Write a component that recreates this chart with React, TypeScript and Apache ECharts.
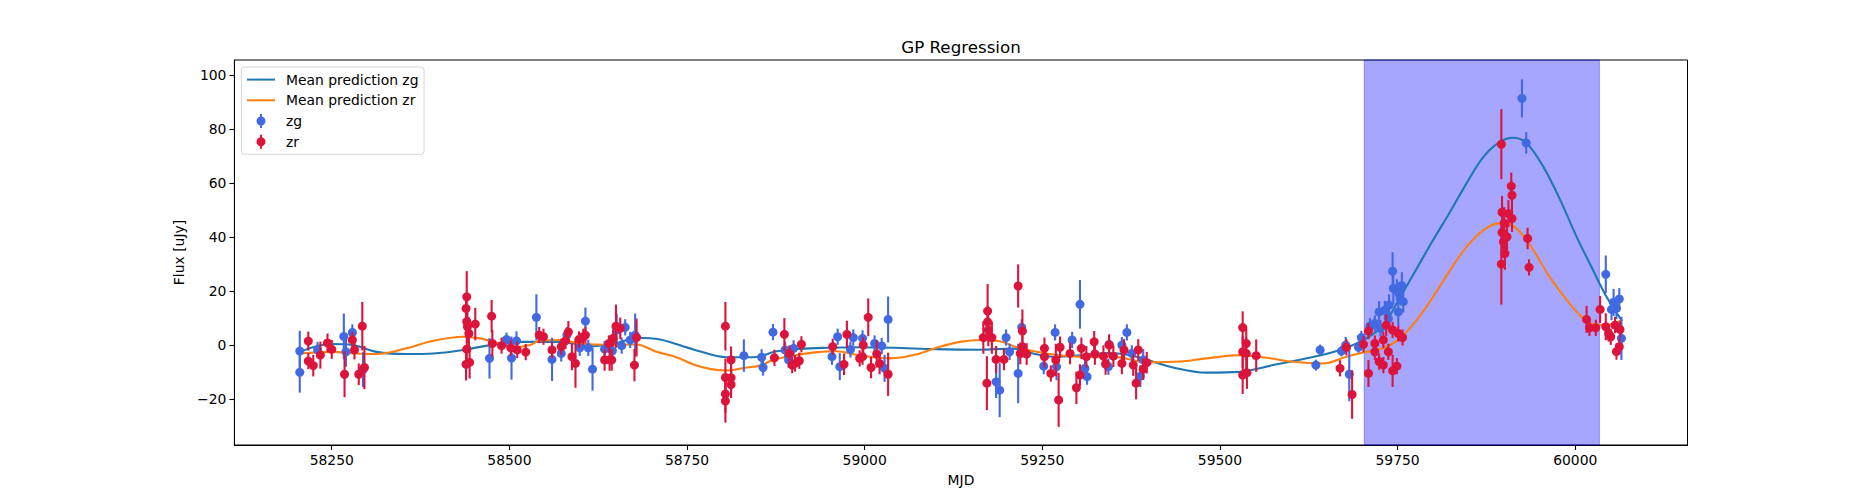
import { useEffect, useRef } from 'react';
import * as echarts from 'echarts';

// observations: [MJD, flux, error]
const zgPoints: number[][] = [
  [58205, -2.1, 7.5], [58205, -10.0, 7.5], [58230, -1.7, 3.0], [58267, 3.3, 8.5], [58270, -2.4, 5.5],
  [58279, 4.8, 3.0], [58294, -9.0, 6.5], [58472, -4.8, 7.5], [58496, 2.2, 2.5], [58503, -4.7, 8.0],
  [58510, 1.7, 3.5], [58538, 10.4, 8.5], [58560, -5.2, 8.0], [58573, -3.0, 3.0], [58581, 3.8, 3.0],
  [58599, -0.9, 3.0], [58607, 9.0, 5.0], [58611, -0.9, 3.0], [58617, -8.8, 8.0], [58634, -1.4, 3.0],
  [58645, -2.0, 3.0], [58651, 5.7, 6.0], [58658, -0.1, 3.0], [58663, 6.7, 3.0], [58670, 2.0, 3.0],
  [58677, 3.8, 8.0], [58830, -3.8, 6.0], [58855, -4.4, 3.0], [58857, -8.2, 3.0], [58871, 4.9, 3.0],
  [58888, -1.7, 3.0], [58893, -5.4, 3.0], [58900, -1.1, 3.0], [58954, -4.2, 3.0], [58962, 3.2, 3.0],
  [58965, -7.9, 5.0], [58980, -1.5, 3.0], [58984, 2.9, 3.0], [58997, 2.6, 3.0], [59014, 0.7, 3.0],
  [59024, -0.2, 3.0], [59028, -8.5, 5.0], [59033, 9.6, 8.5], [59185, -13.5, 6.0], [59190, -16.6, 10.0],
  [59199, 2.9, 3.0], [59204, -2.4, 3.0], [59216, -10.4, 11.0], [59221, 6.7, 3.0], [59252, -7.7, 3.0],
  [59268, 4.8, 3.0], [59270, -7.9, 5.0], [59292, 2.0, 3.0], [59303, 15.2, 9.0], [59310, -8.5, 3.0],
  [59313, -11.6, 3.0], [59343, -7.9, 3.0], [59344, 0.4, 3.0], [59362, 0.1, 3.0], [59369, 4.8, 3.0],
  [59376, -3.0, 3.0], [59388, -11.4, 4.0], [59392, -5.4, 4.0], [59635, -7.3, 2.0], [59641, -1.7, 2.0],
  [59671, -2.1, 2.0], [59677, 0.1, 3.0], [59682, -10.7, 10.0], [59695, -0.7, 2.0], [59699, 2.9, 2.5],
  [59711, 7.1, 3.0], [59718, 8.1, 3.0], [59724, 12.4, 4.0], [59726, 6.3, 3.0], [59732, 13.0, 3.5],
  [59737, 10.0, 3.5], [59738, 14.9, 4.0], [59743, 27.5, 7.0], [59744, 21.1, 6.0], [59749, 20.5, 4.0],
  [59751, 12.4, 5.0], [59752, 19.2, 4.0], [59756, 22.1, 5.0], [59758, 16.2, 4.0], [59925, 91.5, 7.0],
  [59931, 75.0, 4.0], [60043, 26.3, 7.0], [60051, 13.3, 4.0], [60054, 15.9, 5.0], [60058, 13.7, 4.0],
  [60062, 17.2, 4.0], [60065, 2.6, 8.0],
];

const zrPoints: number[][] = [
  [58217, 1.6, 3.5], [58217, -5.8, 3.0], [58224, -7.5, 4.0], [58234, -3.6, 5.0], [58244, 0.9, 3.5],
  [58250, -1.5, 3.5], [58268, -10.7, 8.5], [58279, 2.0, 3.0], [58282, -1.7, 3.5], [58288, -10.7, 4.0],
  [58293, 7.1, 9.0], [58296, -8.2, 8.0], [58439, 13.7, 5.0], [58440, 18.0, 9.5], [58440, 8.8, 6.0],
  [58441, 6.9, 6.0], [58443, 4.4, 6.0], [58440, -1.4, 6.0], [58439, -7.0, 6.0], [58444, -6.3, 6.0],
  [58452, 7.9, 6.0], [58475, 10.8, 6.0], [58476, 0.7, 5.0], [58489, -0.1, 3.0], [58502, -0.9, 3.0],
  [58511, -1.7, 3.0], [58523, -2.5, 3.0], [58542, 3.8, 3.0], [58548, 3.2, 3.0], [58560, -1.7, 3.0],
  [58573, -0.5, 3.0], [58579, 1.7, 3.0], [58583, 5.0, 4.0], [58588, -4.2, 5.0], [58593, -6.7, 9.0],
  [58598, 2.2, 3.0], [58604, 3.2, 3.0], [58607, 3.8, 3.0], [58634, -5.4, 4.0], [58640, 0.7, 3.0],
  [58641, -5.4, 4.0], [58644, -5.4, 4.0], [58646, 2.6, 3.0], [58650, 7.1, 8.0], [58656, 6.3, 4.0],
  [58676, -7.3, 6.0], [58679, 2.9, 7.0], [58804, 7.1, 9.0], [58804, -11.9, 7.0], [58804, -18.0, 7.0],
  [58804, -20.6, 8.0], [58812, -5.4, 5.0], [58812, -12.0, 5.0], [58812, -14.5, 5.0], [58873, -4.6, 3.0],
  [58887, 4.1, 6.0], [58894, -3.0, 3.0], [58898, -7.3, 3.0], [58902, -6.7, 3.0], [58908, -5.7, 3.0],
  [58911, 0.4, 3.0], [58955, -0.5, 3.0], [58971, -7.0, 4.0], [58975, 4.1, 5.0], [58993, -4.8, 3.0],
  [58997, -4.2, 3.0], [58998, 0.1, 3.0], [59005, 10.4, 7.0], [59009, -8.2, 4.0], [59017, -3.2, 5.0],
  [59021, -6.7, 4.0], [59033, -10.7, 8.0], [59167, 2.9, 6.0], [59172, -14.0, 10.0], [59173, 12.7, 10.0],
  [59173, 8.7, 6.0], [59174, 5.7, 6.0], [59179, 2.9, 6.0], [59185, -5.2, 5.0], [59196, -5.2, 4.0],
  [59216, 22.0, 8.0], [59219, -3.0, 4.0], [59222, 5.3, 8.0], [59222, -0.5, 4.0], [59228, -3.2, 4.0],
  [59253, -1.1, 4.0], [59253, -4.2, 4.0], [59262, -10.4, 3.0], [59269, -5.4, 6.0], [59273, -20.2, 10.0],
  [59275, -0.7, 4.0], [59289, -3.0, 4.0], [59298, -15.7, 6.0], [59303, -11.0, 4.0], [59305, -1.1, 4.0],
  [59312, -4.2, 4.0], [59323, 1.3, 4.0], [59324, -3.2, 4.0], [59336, -4.0, 4.0], [59339, -6.9, 4.0],
  [59344, 0.1, 4.0], [59350, -4.0, 4.0], [59362, -6.7, 4.0], [59365, -1.7, 4.0], [59378, -7.3, 4.0],
  [59382, -14.0, 6.0], [59385, -1.7, 4.0], [59392, -8.8, 4.0], [59397, -6.4, 4.0], [59532, 6.6, 6.0],
  [59532, -2.4, 6.0], [59532, -11.0, 7.0], [59537, 0.7, 6.0], [59537, -3.0, 6.0], [59538, -10.1, 6.0],
  [59551, -3.8, 6.0], [59669, -8.5, 3.0], [59678, -0.7, 3.0], [59686, -18.2, 9.0], [59702, 0.4, 3.0],
  [59709, 5.3, 3.0], [59709, -10.4, 5.0], [59718, 0.7, 3.0], [59718, -2.4, 3.0], [59724, -6.0, 3.0],
  [59730, -7.3, 3.0], [59730, 2.0, 3.0], [59734, 7.5, 4.0], [59737, -2.4, 3.0], [59743, 5.7, 3.0],
  [59743, -9.4, 6.0], [59749, -7.7, 3.0], [59751, 4.4, 3.0], [59757, 2.9, 3.0], [59896, 74.5, 13.0],
  [59896, 30.1, 15.0], [59897, 41.8, 6.0], [59897, 49.3, 6.0], [59899, 38.4, 6.0], [59900, 45.2, 6.0],
  [59901, 34.0, 6.0], [59904, 40.2, 5.0], [59906, 48.8, 5.0], [59910, 59.0, 5.0], [59911, 55.6, 5.0],
  [59911, 47.0, 5.0], [59933, 39.6, 4.0], [59935, 28.9, 3.0], [60016, 9.6, 5.0], [60020, 6.5, 3.0],
  [60029, 6.5, 3.0], [60035, 13.3, 5.0], [60043, 6.9, 5.0], [60047, 4.4, 3.0], [60050, 3.2, 3.0],
  [60056, 7.5, 3.0], [60058, -2.3, 3.0], [60062, -0.5, 3.0], [60063, 5.9, 3.0],
];

// GP mean predictions: [MJD, flux]
const zgMean: number[][] = [
  [58205, -2.4], [58248, 0.5], [58280, 0.1], [58313, -2.4], [58355, -3.2], [58393, -3.0],
  [58435, -1.7], [58473, 0.1], [58520, 1.3], [58571, 1.3], [58618, -0.3], [58650, 0.8],
  [58679, 2.8], [58712, 2.2], [58759, -1.5], [58806, -4.4], [58843, -4.4], [58876, -2.2],
  [58909, -1.3], [58947, -0.9], [58990, -0.7], [59040, -0.9], [59100, -1.4], [59160, -1.6],
  [59209, -1.2], [59237, -3.0], [59265, -4.2], [59300, -3.8], [59345, -2.8], [59370, -3.5],
  [59397, -5.3], [59434, -8.2], [59481, -10.1], [59528, -9.8], [59575, -7.3], [59622, -4.8],
  [59669, -1.7], [59706, 2.6], [59730, 7.5], [59753, 17.5], [59777, 28.5], [59800, 39.0],
  [59824, 49.5], [59847, 60.0], [59871, 69.9], [59894, 75.4], [59913, 76.9], [59932, 74.8],
  [59955, 66.2], [59979, 53.8], [60002, 40.2], [60025, 27.9], [60044, 18.0], [60066, 9.0],
];

const zrMean: number[][] = [
  [58205, -3.0], [58250, -2.4], [58285, -3.0], [58313, -3.2], [58355, -1.1], [58393, 1.7],
  [58435, 3.2], [58459, 2.6], [58482, 1.0], [58505, -0.8], [58529, 0.1], [58543, 1.8],
  [58571, 2.0], [58599, 0.7], [58640, 0.2], [58679, 0.3], [58707, -2.4], [58735, -4.4],
  [58760, -7.2], [58782, -8.7], [58806, -9.3], [58834, -8.2], [58853, -7.5], [58871, -5.4],
  [58900, -3.8], [58930, -2.6], [58960, -2.2], [58994, -3.8], [59036, -4.8], [59069, -3.6],
  [59100, -1.0], [59134, 1.3], [59165, 2.0], [59190, 1.5], [59219, -1.1], [59256, -3.0],
  [59303, -4.2], [59350, -4.2], [59397, -6.3], [59444, -6.0], [59481, -4.8], [59528, -3.6],
  [59566, -4.6], [59599, -6.0], [59645, -6.7], [59678, -4.2], [59706, -2.4], [59730, -1.0],
  [59753, 2.5], [59777, 9.4], [59800, 18.0], [59824, 27.9], [59847, 36.5], [59871, 42.7],
  [59892, 45.2], [59904, 45.2], [59922, 42.1], [59941, 35.3], [59964, 25.4], [59988, 16.8],
  [60011, 10.0], [60025, 7.8], [60044, 7.5], [60066, 9.4],
];

const highlightRange = [59703, 60034];
const xTicks = [58250, 58500, 58750, 59000, 59250, 59500, 59750, 60000];
const yTicks = [-20, 0, 20, 40, 60, 80, 100];

const FONT = 'DejaVu Sans';
const ZG_COLOR = '#4169E1';
const ZR_COLOR = '#DC143C';
const LINE_ICON = 'path://M0,0H28V2H0Z';
const ERR_ICON = 'path://M3.5,0H5.5V14H3.5Z M0,7A4.5,4.5 0 1 1 9,7A4.5,4.5 0 1 1 0,7Z';

const errorBar = (color: string) => (params: any, api: any) => {
  const x = api.value(0);
  const y = api.value(1);
  const e = api.value(2);
  const c = api.coord([x, y]);
  const hi = api.coord([x, y + e]);
  const lo = api.coord([x, y - e]);
  return {
    type: 'group',
    children: [
      { type: 'line', shape: { x1: c[0], y1: hi[1], x2: c[0], y2: lo[1] }, style: { stroke: color, lineWidth: 2.1 } },
      { type: 'circle', shape: { cx: c[0], cy: c[1], r: 4.5 }, style: { fill: color } },
    ],
  };
};

const minus = (v: number) => String(v).replace('-', '\u2212');

export default function App() {
  const chartRef = useRef<HTMLDivElement>(null);

  useEffect(() => {
    if (!chartRef.current) return;
    const chart = echarts.init(chartRef.current, null, { renderer: 'svg' });

    const option: any = {
      animation: false,
      backgroundColor: '#ffffff',
      title: {
        text: 'GP Regression',
        left: 961,
        top: 38,
        textAlign: 'center',
        padding: 0,
        textStyle: { fontFamily: FONT, fontSize: 16.7, fontWeight: 'normal', color: '#000' },
      },
      legend: {
        orient: 'vertical',
        left: 241.4,
        top: 67,
        padding: [5.6, 5.6, 5.6, 5.6],
        itemWidth: 28,
        itemHeight: 14,
        itemGap: 6.7,
        backgroundColor: 'rgba(255,255,255,0.8)',
        borderColor: '#d6d6d6',
        borderWidth: 1,
        borderRadius: 3,
        itemStyle: { borderWidth: 0 },
        textStyle: { fontFamily: FONT, fontSize: 13.9, color: '#000', lineHeight: 14, padding: [0, 0, 0, 6] },
        data: [
          { name: 'Mean prediction zg', icon: LINE_ICON },
          { name: 'Mean prediction zr', icon: LINE_ICON },
          { name: 'zg', icon: ERR_ICON },
          { name: 'zr', icon: ERR_ICON },
        ],
      },
      grid: {
        left: 234.4,
        right: 187.5,
        top: 60,
        bottom: 55,
        show: true,
        borderColor: '#000',
        borderWidth: 1,
        outerBoundsMode: 'none',
      },
      xAxis: {
        type: 'value',
        min: 58113,
        max: 60158,
        name: 'MJD',
        nameLocation: 'middle',
        nameGap: 28,
        nameTextStyle: { fontFamily: FONT, fontSize: 13.9, color: '#000' },
        splitLine: { show: false },
        axisLine: { show: true, onZero: false, lineStyle: { color: '#000', width: 1 } },
        axisTick: { show: true, length: 5, lineStyle: { color: '#000', width: 1.1 }, customValues: xTicks },
        axisLabel: {
          customValues: xTicks,
          margin: 8,
          fontFamily: FONT,
          fontSize: 13.9,
          color: '#000',
          formatter: (v: number) => String(v),
        },
      },
      yAxis: {
        type: 'value',
        min: -36.9,
        max: 105.7,
        name: 'Flux [uJy]',
        nameLocation: 'middle',
        nameGap: 46,
        nameTextStyle: { fontFamily: FONT, fontSize: 13.9, color: '#000' },
        splitLine: { show: false },
        axisLine: { show: true, onZero: false, lineStyle: { color: '#000', width: 1 } },
        axisTick: { show: true, length: 5, lineStyle: { color: '#000', width: 1.1 }, customValues: yTicks },
        axisLabel: {
          customValues: yTicks,
          margin: 8,
          fontFamily: FONT,
          fontSize: 13.9,
          color: '#000',
          formatter: (v: number) => minus(v),
        },
      },
      series: [
        {
          name: 'Mean prediction zg',
          type: 'line',
          data: zgMean,
          smooth: 0.35,
          symbol: 'none',
          z: 3,
          lineStyle: { color: '#1f77b4', width: 2.1 },
          itemStyle: { color: '#1f77b4' },
          markArea: {
            silent: true,
            z: 1,
            itemStyle: { color: 'rgba(0,0,255,0.35)', borderColor: 'rgba(0,0,255,0.35)', borderWidth: 1 },
            data: [[{ xAxis: highlightRange[0] }, { xAxis: highlightRange[1] }]],
          },
        },
        {
          name: 'Mean prediction zr',
          type: 'line',
          data: zrMean,
          smooth: 0.35,
          symbol: 'none',
          z: 3,
          lineStyle: { color: '#ff7f0e', width: 2.1 },
          itemStyle: { color: '#ff7f0e' },
        },
        {
          name: 'zg',
          type: 'custom',
          data: zgPoints,
          encode: { x: 0, y: 1 },
          renderItem: errorBar(ZG_COLOR),
          itemStyle: { color: ZG_COLOR },
          z: 5,
        },
        {
          name: 'zr',
          type: 'custom',
          data: zrPoints,
          encode: { x: 0, y: 1 },
          renderItem: errorBar(ZR_COLOR),
          itemStyle: { color: ZR_COLOR },
          z: 6,
        },
      ],
    };

    chart.setOption(option);

    return () => {
      chart.dispose();
    };
  }, []);

  return (
    <div
      ref={chartRef}
      style={{ position: 'absolute', left: 0, top: 0, width: '1875px', height: '500px' }}
    />
  );
}
